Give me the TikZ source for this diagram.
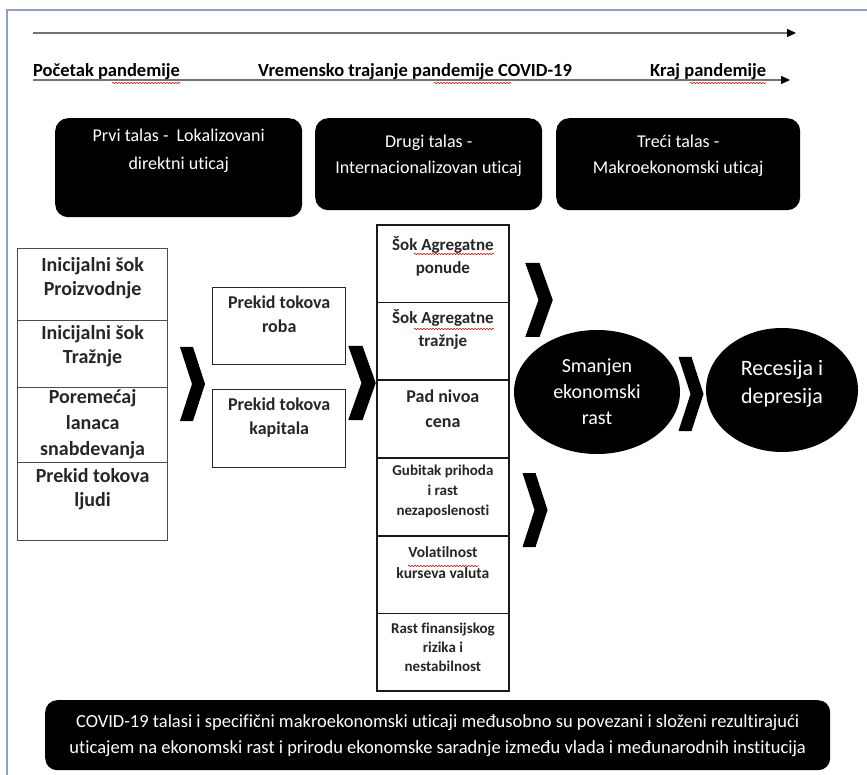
\documentclass[tikz,border=0pt]{standalone}
\usepackage{fontspec}
\setmainfont{Carlito}[Ligatures=NoCommon]
\usetikzlibrary{arrows.meta,shapes.geometric,decorations.pathmorphing}
\begin{document}
\begin{tikzpicture}[x=1pt,y=-1pt,
  frame/.style={draw={rgb,255:red,140;green,160;blue,200},line width=1.6pt},
  tline/.style={draw=black!55,line width=1.4pt,-{Triangle[length=9pt,width=8pt,color=black]}},
  ttext/.style={anchor=south west,inner sep=0,font=\fontsize{18.5}{22}\selectfont\bfseries},
  squig/.style={draw=red!85!black,line width=0.6pt,decorate,decoration={snake,amplitude=0.6pt,segment length=3pt}},
  wave/.style={fill=black,rounded corners=13pt,anchor=north west,inner sep=0},
  wavetxt/.style={anchor=north,align=center,inner sep=0,text=white,font=\fontsize{18}{26}\selectfont},
  cellL/.style={draw=black!70,line width=1.2pt,anchor=north west,inner sep=0,minimum width=150pt},
  cellM/.style={draw=black!85,line width=1.4pt,anchor=north west,inner sep=0,minimum width=133pt},
  cellR/.style={draw=black!90,line width=1.8pt,anchor=north west,inner sep=0,minimum width=132pt,minimum height=77.7pt},
  ctxt/.style={anchor=north,align=center,inner sep=0,text=black!85,font=\fontsize{20}{24}\selectfont\bfseries},
  ctxtM/.style={anchor=north,align=center,inner sep=0,text=black!85,font=\fontsize{18}{24}\selectfont\bfseries},
  ctxtS/.style={anchor=north,align=center,inner sep=0,text=black!85,font=\fontsize{15}{20}\selectfont\bfseries},
  blob/.style={ellipse,fill=black,inner sep=0},
  blobtxt/.style={align=center,inner sep=0,text=white},
  chev/.pic={\fill[black] (-12.5,-37) -- (0.5,-37) -- (12.5,0) -- (0.5,37) -- (-12.5,37) -- (-0.5,0) -- cycle;}
]
\useasboundingbox (0,0) rectangle (867,775);
\fill[white] (0,0) rectangle (867,775);
% page frame
\draw[frame] (7,775) -- (7,10) -- (867,10);

% timeline
\coordinate (a1s) at (33,33);
\coordinate (a1e) at (796,33);
\draw[tline] (a1s) -- (a1e);
\coordinate (a2s) at (33,80);
\coordinate (a2e) at (790,80);
\draw[tline] (a2s) -- (a2e);
\node[ttext] (tp) at (33,80) {Početak pandemije};
\node[ttext] (tv) at (258,80) {Vremensko trajanje pandemije COVID-19};
\node[ttext] (tk) at (650,80) {Kraj pandemije};
\draw[squig] (112,83) -- (180,83);
\draw[squig] (434,83) -- (511,83);
\draw[squig] (690,83) -- (766,83);

% waves
\node[wave,minimum width=247pt,minimum height=99pt] (w1) at (55,118) {};
\node[wavetxt,font=\fontsize{18}{28}\selectfont] (w1t) at ([yshift=-11pt]w1.north) {Prvi talas -\ \ Lokalizovani\\direktni uticaj};
\node[wave,minimum width=227pt,minimum height=92pt] (w2) at (315,118) {};
\node[wavetxt] (w2t) at ([yshift=-17pt]w2.north) {Drugi talas -\\Internacionalizovan uticaj};
\node[wave,minimum width=244pt,minimum height=92pt] (w3) at (556,118) {};
\node[wavetxt] (w3t) at ([yshift=-17pt]w3.north) {Treći talas -\\Makroekonomski uticaj};

% left column
\node[cellL,minimum height=72pt] (l1) at (17,248) {};
\node[ctxt] (l1t) at ([yshift=-9pt]l1.north) {Inicijalni šok\\Proizvodnje};
\node[cellL,minimum height=67pt] (l2) at (17,320) {};
\node[ctxt] (l2t) at ([yshift=-5pt]l2.north) {Inicijalni šok\\Tražnje};
\node[cellL,minimum height=75pt] (l3) at (17,387) {};
\node[ctxt,font=\fontsize{20}{26}\selectfont\bfseries] (l3t) at ([yshift=-2pt]l3.north) {Poremećaj\\lanaca\\snabdevanja};
\node[cellL,minimum height=78pt] (l4) at (17,462) {};
\node[ctxt] (l4t) at ([yshift=-6pt]l4.north) {Prekid tokova\\ljudi};

% middle column
\node[cellM,minimum height=77pt] (m1) at (212,287) {};
\node[ctxtM] (m1t) at ([yshift=-9pt]m1.north) {Prekid tokova\\roba};
\node[cellM,minimum height=78pt] (m2) at (212,389) {};
\node[ctxtM] (m2t) at ([yshift=-9pt]m2.north) {Prekid tokova\\kapitala};

% right column
\node[cellR] (r1) at (376,224) {};
\node[ctxtM,font=\fontsize{17}{23}\selectfont\bfseries] (r1t) at ([yshift=-12pt]r1.north) {Šok Agregatne\\ponude};
\node[cellR] (r2) at (376,301.7) {};
\node[ctxtM,font=\fontsize{17}{23}\selectfont\bfseries] (r2t) at ([yshift=-8pt]r2.north) {Šok Agregatne\\tražnje};
\node[cellR] (r3) at (376,379.4) {};
\node[ctxtM,font=\fontsize{18}{25}\selectfont\bfseries] (r3t) at ([yshift=-10pt]r3.north) {Pad nivoa\\cena};
\node[cellR] (r4) at (376,457.1) {};
\node[ctxtS] (r4t) at ([yshift=-8pt]r4.north) {Gubitak prihoda\\i rast\\nezaposlenosti};
\node[cellR] (r5) at (376,534.8) {};
\node[ctxtM,font=\fontsize{15.5}{21}\selectfont\bfseries] (r5t) at ([yshift=-12pt]r5.north) {Volatilnost\\kurseva valuta};
\node[cellR] (r6) at (376,612.5) {};
\node[ctxtS,font=\fontsize{15}{19}\selectfont\bfseries] (r6t) at ([yshift=-10pt]r6.north) {Rast finansijskog\\rizika i\\nestabilnost};
\draw[squig] (414,254) -- (494,254);
\draw[squig] (414,329) -- (494,329);
\draw[squig] (408,566) -- (478,566);

% ellipses
\node[blob,minimum width=166pt,minimum height=124pt] (e1) at (597,392) {};
\node[blobtxt,font=\fontsize{20}{26}\selectfont] (e1t) at (e1) {Smanjen\\ekonomski\\rast};
\node[blob,minimum width=152pt,minimum height=124pt] (e2) at (782,390) {};
\node[blobtxt,font=\fontsize{22}{28}\selectfont] (e2t) at ([yshift=6pt]e2.center) {Recesija i\\depresija};

% chevrons
\pic at (192.5,384) {chev};
\pic[xscale=1.1] at (362,383) {chev};
\pic[xscale=1.1] at (539,300) {chev};
\pic at (535,510) {chev};
\pic at (691,394) {chev};

% bottom box
\node[wave,minimum width=785pt,minimum height=70pt,rounded corners=12pt] (bb) at (45,700) {};
\node[blobtxt,font=\fontsize{18.5}{26}\selectfont] (bbt) at (bb) {COVID-19 talasi i specifični makroekonomski uticaji međusobno su povezani i složeni rezultirajući\\uticajem na ekonomski rast i prirodu ekonomske saradnje između vlada i međunarodnih institucija};
\end{tikzpicture}
\end{document}
